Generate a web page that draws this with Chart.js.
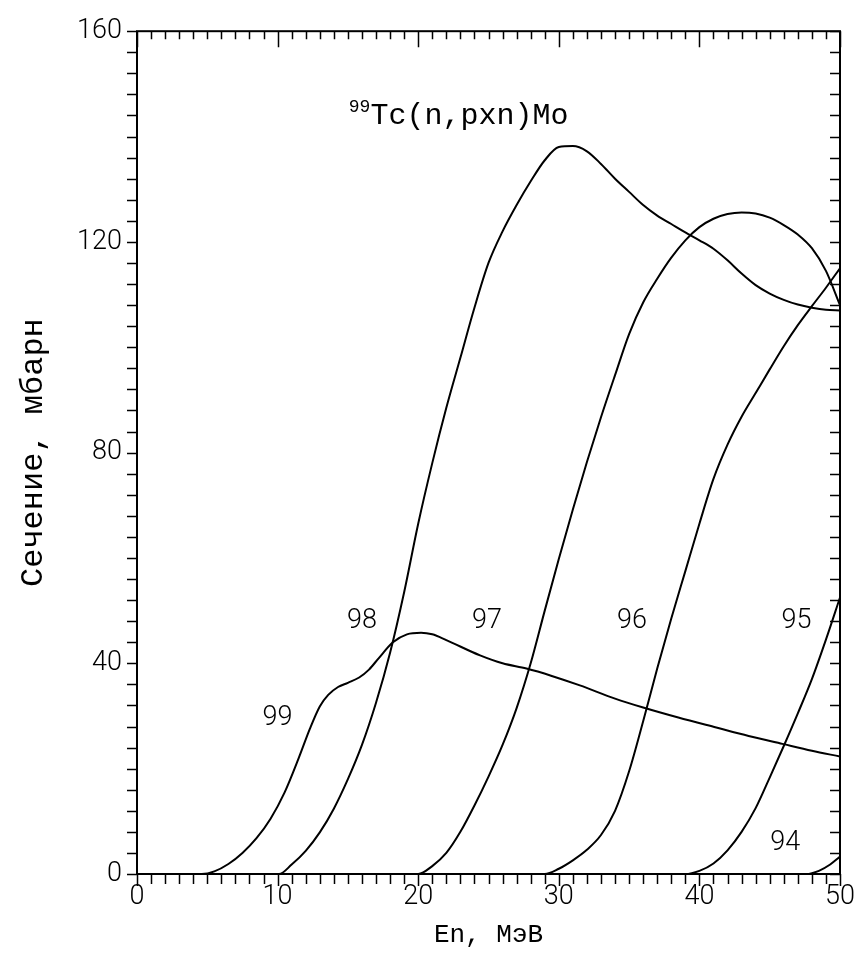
<!DOCTYPE html>
<html>
<head>
<meta charset="utf-8">
<script src="https://cdn.jsdelivr.net/npm/chart.js@4.4.1/dist/chart.umd.min.js"></script>
<style>
  html, body { margin: 0; padding: 0; background: #ffffff; }
  canvas { display: block; }
</style>
</head>
<body>
<canvas id="chart" width="864" height="960"></canvas>
<script>
// Cross sections of 99Tc(n,pxn)Mo, mb, versus neutron energy, MeV.
// One curve per product isotope (mass number 99 ... 94).
const xTickLabels = [0, 10, 20, 30, 40, 50];
const yTickLabels = [0, 40, 80, 120, 160];
const isotopes = ['99', '98', '97', '96', '95', '94'];

const e99 = [0, 4.6, 5.5, 6.5, 7.5, 8.5, 9.5, 10.5, 11.5, 12.3, 13.0, 13.6, 14.3, 15.0, 15.8, 16.5, 17.2, 18.2, 19.2, 20.2, 21.0, 22.0, 24.4, 26.0, 27.7, 29.5, 31.5, 34.0, 36.0, 38.5, 41.2, 43.5, 45.9, 48.0, 50];
const s99 = [0, 0, 0.5, 1.9, 4.0, 6.8, 10.5, 15.5, 22.0, 27.6, 31.8, 34.0, 35.5, 36.3, 37.3, 38.8, 41.0, 44.0, 45.5, 45.8, 45.5, 44.4, 41.5, 40.0, 39.0, 37.6, 35.8, 33.3, 31.6, 29.7, 27.8, 26.2, 24.7, 23.4, 22.3];

const e98 = [0, 10.1, 11, 12, 13, 14, 15, 16, 17, 18, 19, 20, 21, 22, 23, 24, 25, 26, 27, 28, 29, 30, 31, 32, 33, 34, 35, 36, 37, 38, 39, 40, 41, 42, 43, 44, 45, 46, 47, 48, 49, 50];
const s98 = [0, 0, 1.8, 4.4, 7.9, 12.4, 18.0, 24.5, 32.5, 42.0, 53.5, 66.5, 78.0, 88.5, 98.0, 107.5, 116.0, 122.0, 127.0, 131.5, 135.5, 138.0, 138.2, 137.2, 134.8, 132.0, 129.5, 127.0, 125.0, 123.4, 121.8, 120.3, 118.7, 116.5, 114.0, 111.8, 110.2, 109.0, 108.1, 107.5, 107.1, 107.0];

const e97 = [0, 20, 21, 22, 23, 24, 25, 26, 27, 28, 29, 30, 31, 32, 33, 34, 35, 36, 37, 38, 39, 40, 41, 42, 43, 44, 45, 46, 47, 48, 49, 50];
const s97 = [0, 0, 1.5, 4.0, 8.0, 13.0, 18.5, 24.5, 31.5, 40.0, 50.0, 59.8, 69.2, 78.2, 86.7, 94.7, 102.5, 108.5, 113.0, 117.0, 120.3, 122.8, 124.4, 125.3, 125.6, 125.4, 124.6, 123.2, 121.4, 118.8, 114.5, 108.0];

const e96 = [0, 29, 30, 31, 32, 33, 34, 35, 36, 37, 38, 39, 40, 41, 42, 43, 44, 45, 46, 47, 48, 49, 50];
const s96 = [0, 0, 1.0, 2.6, 4.6, 7.4, 12.0, 19.5, 29.0, 39.0, 48.5, 57.5, 66.5, 75.0, 81.5, 86.8, 91.3, 95.8, 100.2, 104.2, 107.8, 111.3, 115.0];

const e95 = [0, 39, 40, 41, 42, 43, 44, 45, 46, 47, 48, 49, 50];
const s95 = [0, 0, 0.6, 2.0, 4.5, 8.0, 12.5, 18.3, 24.3, 30.5, 37.0, 44.5, 52.5];

const e94 = [0, 47.6, 48.5, 49.3, 50];
const s94 = [0, 0, 0.6, 1.8, 3.3];

// Where each curve's mass-number label sits, in axis units.
const labelSpots = [
  [10.0, 29.6], [16.0, 48.0], [24.9, 48.0], [35.2, 48.0], [46.9, 48.0], [46.1, 5.8]
];

const energies = [e99, e98, e97, e96, e95, e94];
const sections = [s99, s98, s97, s96, s95, s94];

const tickFont = { family: 'Roboto, "Liberation Sans", sans-serif', size: 27, weight: '300' };
const monoFamily = '"Liberation Mono", "DejaVu Sans Mono", monospace';

const datasets = isotopes.map((name, i) => ({
  label: name,
  data: energies[i].map((x, k) => ({ x, y: sections[i][k] })),
  borderColor: '#000000',
  borderWidth: 2,
  pointRadius: 0,
  fill: false,
  cubicInterpolationMode: 'monotone'
}));

// Frame, tick marks on all four sides, curve labels and the reaction title.
const decorations = {
  id: 'decorations',
  afterDatasetsDraw(chart) {
    const { ctx, chartArea: a, scales } = chart;
    const xs = scales.x, ys = scales.y;
    ctx.save();
    ctx.strokeStyle = '#000000';
    ctx.lineCap = 'butt';

    ctx.lineWidth = 1.5;
    ctx.beginPath();
    for (let v = 0; v <= 50; v += 1) {
      const px = Math.round(xs.getPixelForValue(v)) + 0.5;
      const major = v % 10 === 0;
      ctx.moveTo(px, a.bottom); ctx.lineTo(px, a.bottom + (major ? 12 : 10));
      ctx.moveTo(px, a.top); ctx.lineTo(px, a.top + (major ? 16 : 8));
    }
    for (let v = 0; v <= 160; v += 4) {
      const py = Math.round(ys.getPixelForValue(v)) + 0.5;
      ctx.moveTo(a.left, py); ctx.lineTo(a.left - 10, py);
      ctx.moveTo(a.right, py); ctx.lineTo(a.right - 10, py);
    }
    ctx.stroke();

    ctx.lineWidth = 2;
    ctx.strokeRect(a.left, a.top, a.right - a.left, a.bottom - a.top);

    ctx.fillStyle = '#000000';
    ctx.textAlign = 'center';
    ctx.textBaseline = 'middle';
    ctx.font = '300 27px ' + tickFont.family;
    isotopes.forEach((name, i) => {
      const [lx, ly] = labelSpots[i];
      ctx.fillText(name, xs.getPixelForValue(lx), ys.getPixelForValue(ly));
    });

    // Reaction title with superscript mass number
    const tx = xs.getPixelForValue(16.6);
    const ty = ys.getPixelForValue(142.3);
    ctx.textAlign = 'left';
    ctx.textBaseline = 'alphabetic';
    ctx.font = '30px ' + monoFamily;
    ctx.fillText('Tc(n,pxn)Mo', tx, ty);
    ctx.font = '18px ' + monoFamily;
    ctx.textAlign = 'right';
    ctx.fillText('99', tx, ty - 12);
    ctx.restore();
  }
};

new Chart(document.getElementById('chart'), {
  type: 'line',
  data: { datasets },
  options: {
    responsive: false,
    animation: false,
    events: [],
    layout: { padding: { top: 28, right: 24, left: 0, bottom: 0 } },
    plugins: { legend: { display: false }, tooltip: { enabled: false } },
    scales: {
      x: {
        type: 'linear',
        min: 0, max: 50,
        afterFit(s) { s.height = 86; },
        afterBuildTicks(s) { s.ticks = xTickLabels.map(v => ({ value: v })); },
        ticks: { color: '#000000', font: tickFont, padding: 7, maxRotation: 0 },
        grid: { display: false, drawTicks: false },
        border: { display: false },
        title: {
          display: true, text: 'En, МэВ', color: '#000000',
          font: { family: monoFamily, size: 26 }, padding: { top: 0, bottom: 9 }
        }
      },
      y: {
        type: 'linear',
        min: 0, max: 160,
        afterFit(s) { s.width = 137; },
        afterBuildTicks(s) { s.ticks = yTickLabels.map(v => ({ value: v })); },
        ticks: { color: '#000000', font: tickFont, padding: 15 },
        grid: { display: false, drawTicks: false },
        border: { display: false },
        title: {
          display: true, text: 'Сечение, мбарн', color: '#000000',
          font: { family: monoFamily, size: 32 }, padding: { top: 14, bottom: 0 }
        }
      }
    }
  },
  plugins: [decorations]
});
</script>
</body>
</html>
